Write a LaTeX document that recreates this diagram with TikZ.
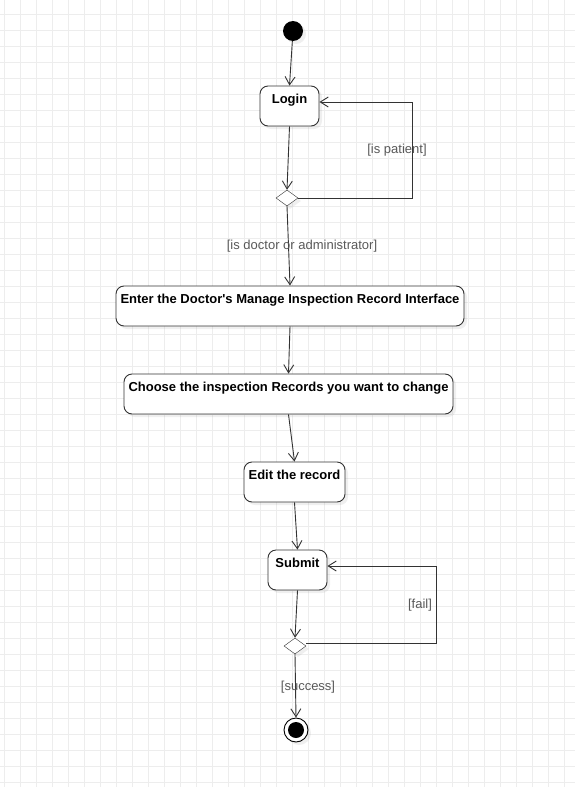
\documentclass[tikz,border=0pt]{standalone}
\usepackage{fontspec}
\setmainfont{Liberation Sans}
\usepackage{xcolor}
\usepackage{tikz}
\usetikzlibrary{positioning, arrows.meta, shapes.geometric, shadows}
\definecolor{gridgray}{HTML}{EDEDED}
\definecolor{edgegray}{HTML}{333333}
\definecolor{guardgray}{HTML}{595959}

\begin{document}
\begin{tikzpicture}[
  x=1pt, y=-1pt,
  font=\fontsize{13}{15}\selectfont,
  act/.style={draw=edgegray, line width=0.9pt, rounded corners=8pt, fill=white,
    font=\fontsize{13}{15}\selectfont\bfseries, inner xsep=2pt, inner ysep=6pt,
    text height=11pt, text depth=17pt, minimum height=40pt,
    drop shadow={opacity=0.12, shadow xshift=3pt, shadow yshift=-3pt}},
  choice/.style={draw=edgegray, diamond, fill=white, inner sep=0pt,
    minimum width=22pt, minimum height=16pt,
    drop shadow={opacity=0.12, shadow xshift=3pt, shadow yshift=-3pt}},
  flow/.style={draw=edgegray, line width=0.9pt, -{Straight Barb[length=8pt, width=10pt]}},
  guard/.style={text=guardgray, inner sep=1pt},
  gridline/.style={gridgray, line width=0.8pt}
]
\useasboundingbox (0,0) rectangle (575,787);
\fill[white] (0,0) rectangle (575,787);
% background grid
\foreach \gx in {4,20,...,575} \draw[gridline] (\gx,0) -- (\gx,787);
\foreach \gy in {14,30,...,787} \draw[gridline] (0,\gy) -- (575,\gy);

\node[circle, fill=black, minimum size=20pt, inner sep=0pt,
  drop shadow={opacity=0.12, shadow xshift=3pt, shadow yshift=-3pt}] (start) at (293,31) {};
\node[act, minimum width=59pt] (login) at (289.5,106) {Login};
\node[choice] (dec1) at (287,198) {};
\node[act, minimum width=348pt] (enter) at (290,306) {Enter the Doctor\textquotesingle s Manage Inspection Record Interface};
\node[act, minimum width=329pt] (choose) at (288.5,394) {Choose the inspection Records you want to change};
\node[act, minimum width=101pt] (edit) at (294.5,482) {Edit the record};
\node[act, minimum width=59pt] (submit) at (297.5,570) {Submit};
\node[choice] (dec2) at (295,646) {};
\node[circle, draw=black, line width=0.9pt, fill=white, minimum size=24pt, inner sep=0pt,
  drop shadow={opacity=0.12, shadow xshift=3pt, shadow yshift=-3pt},
  path picture={\fill[black] (path picture bounding box.center) circle (8pt);}] (finish) at (296,730) {};

\draw[flow] (start) -- (login.north);
\draw[flow] (login.south) -- (dec1.north);
\draw[flow] (dec1.east) -| ([xshift=93pt, yshift=4pt]login.east) -- ([yshift=4pt]login.east);
\draw[flow] (dec1.south) -- (enter.north);
\draw[flow] (enter.south) -- (choose.north);
\draw[flow] (choose.south) -- (edit.north);
\draw[flow] (edit.south) -- (submit.north);
\draw[flow] (submit.south) -- (dec2.north);
\draw[flow] ([yshift=3pt]dec2.east) -| ([xshift=109pt, yshift=4pt]submit.east) -- ([yshift=4pt]submit.east);
\draw[flow] (dec2.south) -- (finish.north);

\node[guard] (patient) at (397,150) {[is patient]};
\node[guard] (doctor) at (302,246) {[is doctor or administrator]};
\node[guard] (fail) at (420,605) {[fail]};
\node[guard] (success) at (308,687) {[success]};
\end{tikzpicture}
\end{document}
